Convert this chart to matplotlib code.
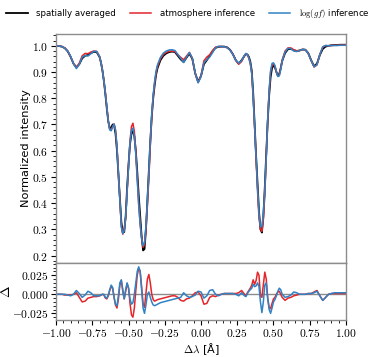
import matplotlib
matplotlib.use("Agg")
import matplotlib.pyplot as plt
import numpy as np
from matplotlib.ticker import MultipleLocator, AutoMinorLocator, FuncFormatter

plt.rcParams['mathtext.fontset'] = 'cm'
plt.rcParams['font.family'] = 'DejaVu Sans'

# wavelength grid [A]
wav = [-1.00, -0.98, -0.96, -0.94, -0.92, -0.90, -0.88, -0.86, -0.84, -0.82,
       -0.80, -0.78, -0.76, -0.74, -0.72,
       -0.70, -0.69, -0.68, -0.67, -0.66, -0.65, -0.64, -0.63, -0.62, -0.61,
       -0.60, -0.59, -0.58, -0.57, -0.56, -0.55, -0.54, -0.53, -0.52, -0.51,
       -0.50, -0.49, -0.48, -0.47, -0.46, -0.45, -0.44, -0.43, -0.42, -0.41,
       -0.40, -0.39, -0.38, -0.37, -0.36, -0.35, -0.34, -0.33, -0.32, -0.31, -0.30,
       -0.28, -0.26, -0.24, -0.22, -0.20, -0.18, -0.16, -0.14, -0.12, -0.10,
       -0.08, -0.06, -0.04, -0.02, 0.00, 0.02, 0.04, 0.06, 0.08, 0.10,
       0.12, 0.14, 0.16, 0.18, 0.20, 0.22, 0.24, 0.26, 0.28,
       0.30, 0.31, 0.32, 0.33, 0.34, 0.35, 0.36, 0.37, 0.38, 0.39,
       0.40, 0.41, 0.42, 0.43, 0.44, 0.45, 0.46, 0.47, 0.48, 0.49,
       0.50, 0.51, 0.52, 0.53, 0.54, 0.55, 0.56,
       0.58, 0.60, 0.62, 0.64, 0.66, 0.68, 0.70, 0.72, 0.74, 0.76,
       0.78, 0.80, 0.82, 0.84, 0.86, 0.88, 0.90, 0.92, 0.94, 0.96, 0.98, 1.00]

# spatially averaged profile
obs = [1.000, 0.999, 0.997, 0.991, 0.979, 0.958, 0.932, 0.918, 0.930, 0.952,
       0.962, 0.965, 0.972, 0.977, 0.976,
       0.957, 0.935, 0.905, 0.865, 0.815, 0.760, 0.712, 0.686, 0.688, 0.700,
       0.698, 0.665, 0.600, 0.510, 0.420, 0.330, 0.288, 0.290, 0.350, 0.460,
       0.550, 0.625, 0.665, 0.675, 0.655, 0.600, 0.520, 0.430, 0.350, 0.275,
       0.220, 0.225, 0.300, 0.410, 0.520, 0.635, 0.730, 0.800, 0.850, 0.890, 0.915,
       0.945, 0.962, 0.971, 0.976, 0.978, 0.976, 0.962, 0.948, 0.938, 0.955,
       0.970, 0.950, 0.895, 0.863, 0.885, 0.930, 0.945, 0.962, 0.980, 0.992,
       0.996, 0.997, 0.997, 0.994, 0.985, 0.968, 0.945, 0.932, 0.945,
       0.962, 0.968, 0.967, 0.958, 0.940, 0.905, 0.820, 0.700, 0.580, 0.475,
       0.370, 0.300, 0.288, 0.350, 0.460, 0.590, 0.710, 0.810, 0.880, 0.915,
       0.925, 0.918, 0.900, 0.887, 0.893, 0.915, 0.942,
       0.972, 0.987, 0.988, 0.983, 0.980, 0.982, 0.986, 0.985, 0.972, 0.945,
       0.922, 0.932, 0.965, 0.988, 0.997, 1.000, 1.002, 1.003, 1.003, 1.004, 1.004, 1.004]

# residuals (observed - inferred)
delta_atm = [0.000, 0.000, 0.000, -0.001, -0.001, -0.001, 0.000, 0.002, -0.004, -0.010,
             -0.009, -0.005, -0.004, -0.003, -0.003,
             -0.002, -0.001, 0.000, -0.001, -0.005, -0.006, -0.002, 0.005, 0.010, 0.008,
             -0.004, -0.014, -0.018, -0.006, 0.012, 0.018, 0.006, -0.006, 0.004, 0.014,
             0.008, -0.012, -0.027, -0.030, -0.018, 0.005, 0.025, 0.034, 0.030, 0.010,
             -0.012, -0.017, 0.002, 0.020, 0.026, 0.015, 0.000, -0.007, -0.009, -0.008, -0.007,
             -0.006, -0.005, -0.004, -0.003, -0.002, -0.002, -0.004, -0.008, -0.009, -0.006,
             -0.005, -0.002, 0.002, 0.003, -0.002, -0.013, -0.012, -0.004, -0.002, -0.003,
             -0.001, 0.000, 0.001, 0.001, 0.001, 0.001, 0.001, 0.002, 0.005,
             0.000, -0.002, 0.002, 0.005, 0.008, 0.012, 0.019, 0.013, 0.018, 0.029,
             0.025, -0.002, -0.004, 0.012, 0.029, 0.020, -0.005, -0.017, -0.019, -0.012,
             -0.006, -0.004, 0.000, 0.003, 0.004, 0.000, -0.004,
             -0.008, -0.005, -0.004, -0.002, -0.001, 0.000, 0.000, 0.000, 0.001, 0.001,
             0.003, 0.005, -0.002, -0.008, -0.004, 0.000, 0.001, 0.001, 0.001, 0.001, 0.001, 0.001]

delta_gf = [0.000, 0.000, 0.000, 0.000, -0.001, -0.002, 0.000, 0.005, 0.001, -0.004,
            -0.001, 0.004, 0.002, -0.002, -0.002,
            -0.002, -0.001, 0.000, 0.000, -0.004, -0.005, -0.001, 0.006, 0.012, 0.009,
            -0.004, -0.013, -0.015, -0.002, 0.015, 0.019, 0.004, -0.006, 0.006, 0.015,
            0.008, -0.006, -0.013, -0.011, 0.000, 0.015, 0.030, 0.036, 0.030, 0.006,
            -0.018, -0.025, -0.014, 0.000, 0.003, -0.004, -0.010, -0.014, -0.015, -0.014, -0.013,
            -0.011, -0.010, -0.009, -0.008, -0.007, -0.006, -0.005, -0.004, 0.002, -0.002,
            -0.004, -0.003, -0.001, 0.004, 0.003, -0.005, -0.002, 0.005, 0.006, 0.000,
            -0.002, 0.000, 0.001, 0.001, 0.001, 0.001, 0.000, -0.002, 0.002,
            -0.002, -0.003, 0.001, 0.004, 0.006, 0.008, 0.013, 0.010, 0.011, 0.015,
            0.010, -0.010, -0.024, -0.010, 0.012, 0.015, -0.005, -0.020, -0.025, -0.018,
            -0.010, -0.007, -0.002, 0.004, 0.008, 0.006, 0.000,
            -0.004, -0.003, -0.001, 0.003, 0.002, 0.000, 0.000, 0.000, 0.001, 0.001,
            0.002, 0.004, -0.002, -0.008, -0.004, 0.000, 0.001, 0.002, 0.002, 0.002, 0.002, 0.002]

wav = np.array(wav)
obs = np.array(obs)
delta_atm = np.array(delta_atm)
delta_gf = np.array(delta_gf)
fit_atm = obs - delta_atm
fit_gf = obs - delta_gf

c_red = '#e3262b'
c_blue = '#3182c4'
spine_c = '#8c8c8c'

fig = plt.figure(figsize=(3.74, 3.57), dpi=100)
ax1 = fig.add_axes([0.150, 0.2633, 0.775, 0.6415])
ax2 = fig.add_axes([0.150, 0.103, 0.775, 0.1603], sharex=ax1)

ax1.plot(wav, obs, color='k', lw=1.3, label='spatially averaged')
ax1.plot(wav, fit_atm, color=c_red, lw=1.1, label='atmosphere inference')
ax1.plot(wav, fit_gf, color=c_blue, lw=1.1, label=r'$\log(gf)$ inference')

ax2.axhline(0, color=spine_c, lw=1.0)
ax2.plot(wav, delta_atm, color=c_red, lw=1.1)
ax2.plot(wav, delta_gf, color=c_blue, lw=1.1)

ax1.set_xlim(-1, 1)
ax1.set_ylim(0.172, 1.045)
ax2.set_ylim(-0.034, 0.041)

fmt1 = FuncFormatter(lambda v, p: r'$%.1f$' % v)
fmt2 = FuncFormatter(lambda v, p: r'$%.3f$' % v)
fmtx = FuncFormatter(lambda v, p: r'$%.2f$' % v)
ax1.yaxis.set_major_locator(MultipleLocator(0.1))
ax1.yaxis.set_minor_locator(AutoMinorLocator(5))
ax1.yaxis.set_major_formatter(fmt1)
ax2.yaxis.set_major_locator(MultipleLocator(0.025))
ax2.yaxis.set_minor_locator(AutoMinorLocator(5))
ax2.yaxis.set_major_formatter(fmt2)
ax2.xaxis.set_major_locator(MultipleLocator(0.25))
ax2.xaxis.set_minor_locator(AutoMinorLocator(5))
ax2.xaxis.set_major_formatter(fmtx)
ax1.tick_params(axis='x', which='both', bottom=False, labelbottom=False)

for ax in (ax1, ax2):
    for s in ax.spines.values():
        s.set_color(spine_c)
        s.set_linewidth(1.0)
    ax.tick_params(which='major', labelsize=8.3, length=3.5, width=0.8, color='k', pad=2)
    ax.tick_params(which='minor', length=2, width=0.6, color='k')
ax2.tick_params(axis='x', which='major', pad=1.5)

ax1.set_ylabel('Normalized intensity', fontsize=8.2)
ax2.set_ylabel(r'$\Delta$', fontsize=10)
ax2.set_xlabel(r'$\Delta\lambda$ [Å]', fontsize=8.0)
ax1.yaxis.set_label_coords(-0.085, 0.5)
ax2.yaxis.set_label_coords(-0.15, 0.5)
ax2.xaxis.set_label_coords(0.5, -0.36)

ax1.legend(loc='lower center', bbox_to_anchor=(0.455, 1.045), ncol=3, frameon=False,
           fontsize=6.2, handlelength=2.5, columnspacing=1.6, handletextpad=1.0,
           borderaxespad=0)

fig.savefig('out.png', dpi=100)
